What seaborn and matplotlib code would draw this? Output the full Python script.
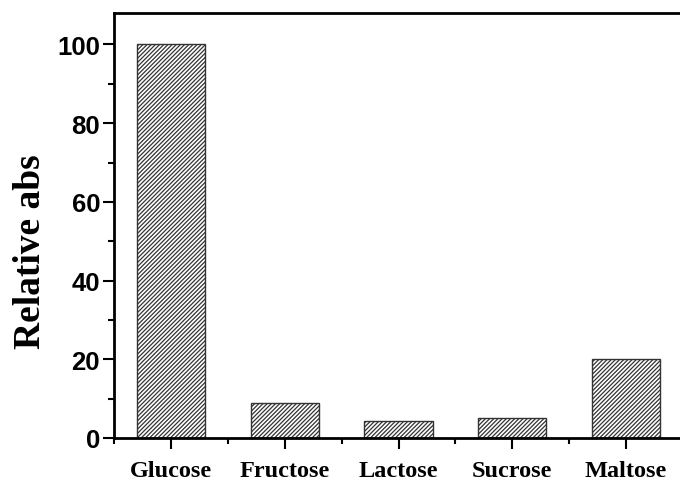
import matplotlib
matplotlib.use("Agg")
import matplotlib.pyplot as plt
import seaborn as sns
import pandas as pd
from matplotlib.ticker import FixedLocator

categories = ["Glucose", "Fructose", "Lactose", "Sucrose", "Maltose"]
values = [100, 9.0, 4.3, 5.2, 20.1]
yticks = [0, 20, 40, 60, 80, 100]

df = pd.DataFrame({"sugar": categories, "abs": values})

sns.set_theme(style="ticks")
plt.rcParams["hatch.linewidth"] = 0.9
plt.rcParams["hatch.color"] = "#222222"

fig = plt.figure(figsize=(6.8, 4.81), dpi=100)
ax = fig.add_axes([114/680, 42/481, (683-114)/680, (439-14)/481])

sns.barplot(data=df, x="sugar", y="abs", color="white", edgecolor="#333333",
            linewidth=1.0, width=0.6, ax=ax, saturation=1)
for p in ax.patches:
    p.set_hatch("////////")
    p.set_facecolor("white")

ax.set_xlim(-0.5, 4.5)
ax.set_ylim(0, 108)
ax.set_yticks(yticks)
ax.yaxis.set_minor_locator(FixedLocator([10, 30, 50, 70, 90]))
ax.xaxis.set_minor_locator(FixedLocator([-0.5, 0.5, 1.5, 2.5, 3.5]))

for s in ax.spines.values():
    s.set_linewidth(2.0)
    s.set_color("black")
    s.set_visible(True)

ax.tick_params(axis="both", which="major", direction="out", length=8, width=1.5, color="black")
ax.tick_params(axis="both", which="minor", direction="out", length=4.5, width=1.5, color="black")
ax.tick_params(axis="x", pad=8)
ax.tick_params(axis="y", pad=2)

for lab in ax.get_yticklabels():
    lab.set_fontfamily("Liberation Sans")
    lab.set_fontweight("bold")
    lab.set_fontsize(18.5)
    lab.set_color("black")
for lab in ax.get_xticklabels():
    lab.set_fontfamily("Liberation Serif")
    lab.set_fontweight("bold")
    lab.set_fontsize(17.5)
    lab.set_color("black")

ax.set_xlabel("")
ax.set_ylabel("Relative abs", fontfamily="Liberation Serif", fontweight="bold",
              fontsize=27, color="black")
ax.yaxis.set_label_coords(-0.116, 0.44)

fig.savefig("out.png", dpi=100)
